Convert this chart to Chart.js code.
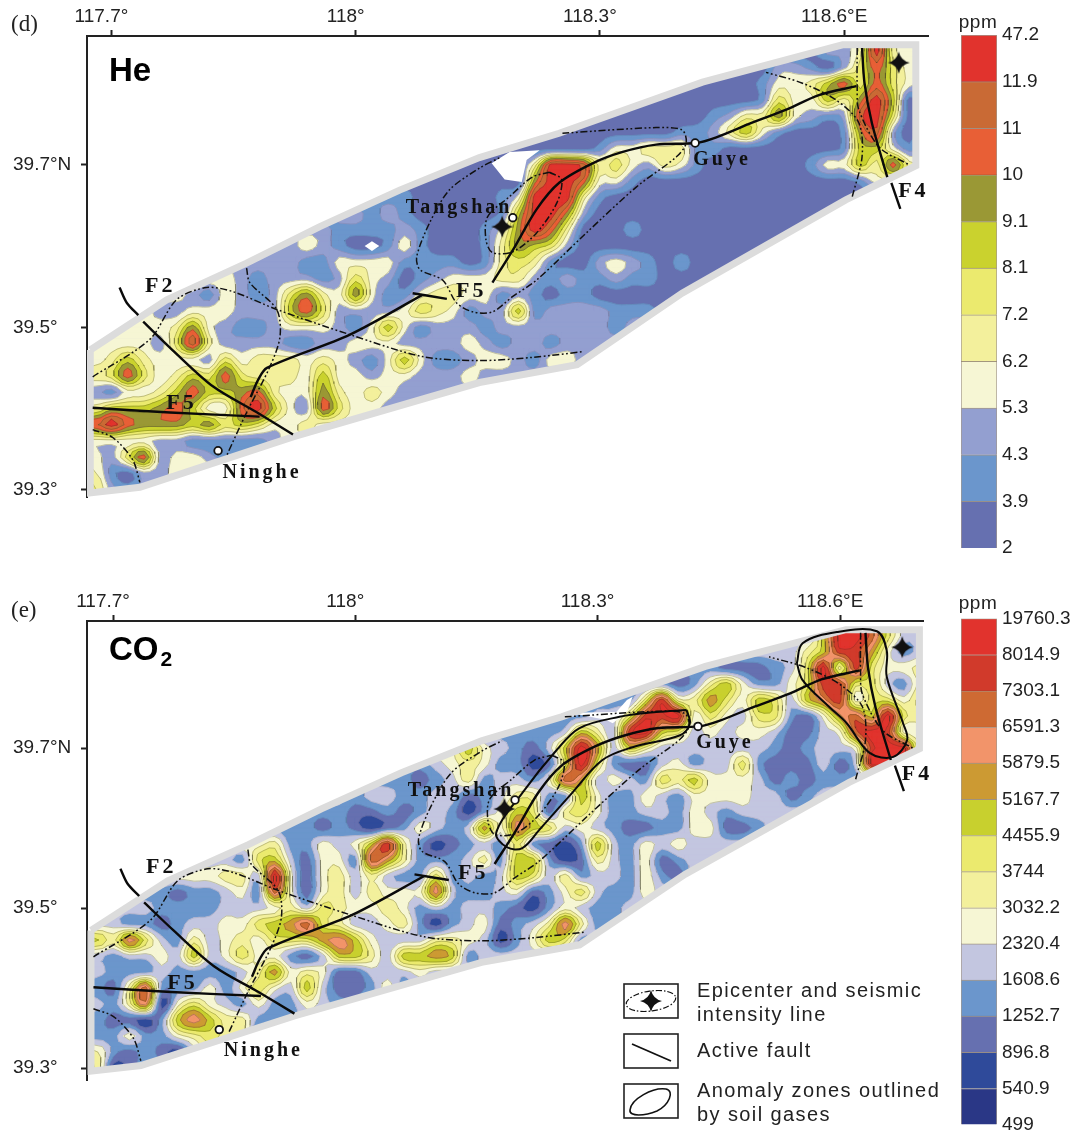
<!DOCTYPE html>
<html>
<head>
<meta charset="utf-8">
<title>He and CO2 soil gas maps</title>
<script src="https://cdn.jsdelivr.net/npm/chart.js@4/dist/chart.umd.min.js"></script>
<style>
  html, body { margin: 0; background: #fff; }
  body { position: relative; width: 1075px; height: 1141px; overflow: hidden; font-family: "Liberation Sans", sans-serif; color: #222; }
  canvas { position: absolute; }
  .txt { position: absolute; white-space: nowrap; }
  .panel { font-family: "Liberation Serif", serif; font-size: 23px; }
  .gas { font-weight: bold; font-size: 33px; color: #000; }
  .gas sub { font-size: 21px; vertical-align: -6px; margin-left: 2px; }
  .ppm { font-size: 19px; width: 60px; text-align: center; letter-spacing: .5px; }
  .leg { font-size: 20px; letter-spacing: 1.4px; line-height: 24px; }
  svg { position: absolute; }
</style>
</head>
<body>
<canvas id="mapaHe" width="940" height="520" style="left:0;top:0"></canvas>
<canvas id="barraHe" width="135" height="570" style="left:940px;top:0"></canvas>
<canvas id="mapaCo2" width="940" height="520" style="left:0;top:590px"></canvas>
<canvas id="barraCo2" width="135" height="551" style="left:940px;top:590px"></canvas>

<div class="txt panel" style="left:11px;top:11px">(d)</div>
<div class="txt panel" style="left:11px;top:597px">(e)</div>
<div class="txt gas" style="left:109px;top:51px">He</div>
<div class="txt gas" style="left:109px;top:630px">CO<sub>2</sub></div>
<div class="txt ppm" style="left:948px;top:11px">ppm</div>
<div class="txt ppm" style="left:948px;top:592px">ppm</div>

<!-- leyenda -->
<svg style="left:623px;top:983px" width="56" height="36"><rect x="1" y="1" width="54" height="34" fill="#fff" stroke="#222" stroke-width="1.6"/><ellipse cx="28" cy="18" rx="25" ry="10" transform="rotate(-8 28 18)" fill="none" stroke="#111" stroke-width="1.2" stroke-dasharray="6 2 1.5 2"/><path d="M28 7 Q30 16 39 18 Q30 20 28 29 Q26 20 17 18 Q26 16 28 7Z" fill="#111"/></svg>
<svg style="left:623px;top:1033px" width="56" height="36"><rect x="1" y="1" width="54" height="34" fill="#fff" stroke="#222" stroke-width="1.6"/><line x1="9" y1="11" x2="48" y2="28" stroke="#111" stroke-width="1.8"/></svg>
<svg style="left:623px;top:1083px" width="56" height="36"><rect x="1" y="1" width="54" height="34" fill="#fff" stroke="#222" stroke-width="1.6"/><path d="M7 27 C8 16 30 4 43 6 C52 8 46 22 34 28 C22 33 6 34 7 27Z" fill="none" stroke="#111" stroke-width="1.6"/></svg>
<div class="txt leg" style="left:697px;top:978px">Epicenter and seismic<br>intensity line</div>
<div class="txt leg" style="left:697px;top:1038px">Active fault</div>
<div class="txt leg" style="left:697px;top:1078px">Anomaly zones outlined<br>by soil gases</div>

<script>
// Etiquetas de ejes
const tickLon = [117.7, 118, 118.3, 118.6];
const tickLonCo2 = [117.701, 117.9975, 118.294, 118.591];
const tickLonLabels = ["117.7°", "118°", "118.3°", "118.6°E"];
const tickLat = [39.7, 39.5, 39.3];
const tickLatLabels = ["39.7°N", "39.5°", "39.3°"];

// Escalas de color (de abajo hacia arriba)
const heLevels = ["2", "3.9", "4.3", "5.3", "6.2", "7.2", "8.1", "9.1", "10", "11", "11.9", "47.2"];
const heColors = ["#6670b0", "#6b96cc", "#939fd0", "#f6f6d4", "#f3f09c", "#ebea6e", "#cad22e", "#9a9835", "#e85f36", "#c96a35", "#e1332d"];
const co2Levels = ["499", "540.9", "896.8", "1252.7", "1608.6", "2320.4", "3032.2", "3744", "4455.9", "5167.7", "5879.5", "6591.3", "7303.1", "8014.9", "19760.3"];
const co2Colors = ["#2a3786", "#2f4a9a", "#6670b0", "#6b96cc", "#c3c6e0", "#f6f6d4", "#f3f09c", "#ebea6e", "#c8d02e", "#cc9a33", "#f2946a", "#ce6a33", "#d13a2b", "#e1332d"];

const heGrid = [
  "0000000000 0000000000 0000000000 0000000000 00000224a4 33",
  "0000000000 0000000000 0000000000 0000000000 00000224a4 33",
  "0000000000 0000000000 0000000000 0000000000 0022102585 33",
  "0000000000 0000000000 0000000000 0000000000 0133468585 32",
  "0000000000 0000000000 0000000000 0000000000 01533647a6 02",
  "0000000000 0000000000 0000000000 0000000012 44732129a5 02",
  "0000000000 0000000000 0000000000 0000001124 6310001792 02",
  "0000000000 0000000000 0000000000 0133444110 0000001663 12",
  "0000000000 0000000000 00000014aa 9453243100 0000133648 44",
  "0000000000 0000000000 00000007aa 8331000000 0000000133 33",
  "0000000000 0000000111 0000013aaa 4100000000 0000000000 00",
  "0000000000 0000022121 0000016aa7 2000000000 0000000000 00",
  "0000000000 2222211112 1000137a84 0001000000 0000000000 00",
  "0000000000 2223210013 1000147652 0000000000 0000000000 00",
  "2222222222 2221133331 1110145410 0232101000 0000000000 00",
  "3333333332 1222125320 1233344212 1121100000 0000000000 00",
  "3333332132 1257437311 3443312101 1000000000 0000000000 00",
  "3333223332 2268522223 5431226122 2211100000 0000000000 00",
  "3333347321 1233321363 1222122222 2212222222 2222222222 22",
  "3333259422 2211223332 2223212212 2222222222 2222222222 22",
  "3464333253 4443432136 3112332133 2222222222 2222222222 22",
  "4585346585 4443633233 2223222222 2222222222 2222222222 22",
  "2133468667 8433743432 2222222222 2222222222 2222222222 22",
  "4666786338 a632853322 2222222222 2222222222 2222222222 22",
  "8a87776756 5334333333 3333333333 3333333333 3333333333 33",
  "3333221111 1233333333 3333333333 3333333333 3333333333 33",
  "3258233212 2222222222 2222222222 2222222222 2222222222 22",
  "4102233333 3333333333 3333333333 3333333333 3333333333 33",
  "5212222222 2222222222 2222222222 2222222222 2222222222 22",
  "5212222222 2222222222 2222222222 2222222222 2222222222 22",
];
const co2Grid = [
  "4444444444 4444444444 4444444444 4444444444 444448ddb7 44",
  "4444444444 4444444444 4444444444 4444444444 444448ddb7 44",
  "4444444444 4444444444 4444444444 4444444444 444468cc95 34",
  "3333333333 3333333333 3333333333 3333333332 22347d6c75 56",
  "3333333333 3333333333 3333333333 3333332368 53357cc774 36",
  "3333333333 3333333333 3333333333 33337c6697 58748ac577 57",
  "3333333333 3333333333 3333333333 3447ccd575 4773259b8d 76",
  "3333333333 3333333333 3333333334 864cd87454 5542245bdc 55",
  "5555555555 5555555555 5558543248 d948644444 44323445cd d5",
  "3333333333 3333333333 3456533127 d732245344 73222424dd d4",
  "3333333333 3333333333 234634435b 9454376855 5423233333 33",
  "4444444444 4444443443 3442346633 8533543555 5442344444 44",
  "3333333333 3333332232 3431358726 7533443543 4444444444 44",
  "3333333333 3333232123 543495a874 5432233552 2344444444 44",
  "5555555555 56335458c6 3123437321 3843545444 4444444444 44",
  "4444444443 7842553b96 3334638831 2643523444 4444444444 44",
  "5555555566 4d52564643 3734348746 3443532444 4444444444 44",
  "3333323345 3b52564655 5a43345235 7433544444 4444444444 44",
  "4444333344 4564765565 3434432135 4334444444 4444444444 44",
  "4433234455 789b764456 313452346a 6334444444 4444444444 44",
  "86a7436456 57779a8544 4665413587 3444444444 4444444444 44",
  "4344548457 5532488648 8983444444 4444444444 4444444444 44",
  "4333433334 6956522444 5444444444 4444444444 4444444444 44",
  "326b333535 7548422353 4444444444 4444444444 4444444444 44",
  "436a157543 5335433444 4444444444 4444444444 4444444444 44",
  "322138a866 3334444444 4444444444 4444444444 4444444444 44",
  "3353356766 2244444444 4444444444 4444444444 4444444444 44",
  "6323214644 4444444444 4444444444 4444444444 4444444444 44",
  "7123334444 4444444444 4444444444 4444444444 4444444444 44",
  "7123334444 4444444444 4444444444 4444444444 4444444444 44",
];

// Contorno del área muestreada [lon, lat]
const swath = [[117.674, 39.472], [117.768, 39.534], [117.866, 39.579], [117.956, 39.624], [118.054, 39.669], [118.152, 39.709], [118.25, 39.739], [118.426, 39.802], [118.598, 39.848], [118.688, 39.848], [118.688, 39.699], [118.602, 39.657], [118.401, 39.542], [118.272, 39.454], [118.152, 39.432], [117.923, 39.365], [117.735, 39.303], [117.674, 39.296]];
const huecosHe = [
  [[118.167, 39.702], [118.183, 39.682], [118.204, 39.679], [118.21, 39.706], [118.226, 39.718], [118.189, 39.716]],
  [[118.011, 39.6], [118.02, 39.606], [118.029, 39.6], [118.02, 39.594]],
];
const huecosCo2 = [
  [[118.3125, 39.731], [118.321, 39.7375], [118.331, 39.7475], [118.337, 39.764], [118.33, 39.76], [118.317, 39.745], [118.26, 39.744], [118.305, 39.735]],
];

// Fallas activas
const fallas = [
  [[117.677, 39.401], [117.772, 39.395], [117.882, 39.39]],
  [[117.739, 39.507], [117.775, 39.472], [117.825, 39.427], [117.879, 39.395], [117.923, 39.368]],
  [[117.71, 39.549], [117.719, 39.53], [117.733, 39.515]],
  [[117.871, 39.414], [117.88, 39.435], [117.891, 39.45], [117.993, 39.491], [118.082, 39.54]],
  [[118.07, 39.542], [118.112, 39.535]],
  [[118.168, 39.555], [118.193, 39.595], [118.222, 39.645], [118.25, 39.678], [118.291, 39.702], [118.328, 39.716], [118.369, 39.725], [118.418, 39.727], [118.443, 39.734], [118.487, 39.752], [118.529, 39.768], [118.569, 39.786], [118.615, 39.797]],
  [[118.622, 39.844], [118.625, 39.801], [118.634, 39.752], [118.653, 39.685]],
  [[118.658, 39.678], [118.669, 39.646]],
];
// Líneas de intensidad sísmica
const intensidad = [
  [[118.61, 39.661], [118.622, 39.71], [118.618, 39.752], [118.59, 39.78], [118.548, 39.801], [118.504, 39.814]],
  [[118.616, 39.844], [118.616, 39.796], [118.618, 39.768], [118.643, 39.722], [118.68, 39.7]],
  [[118.254, 39.739], [118.369, 39.746], [118.401, 39.743], [118.406, 39.727], [118.394, 39.71], [118.345, 39.673], [118.283, 39.616], [118.222, 39.558], [118.193, 39.538], [118.168, 39.519], [118.144, 39.519], [118.124, 39.53], [118.107, 39.558], [118.079, 39.571], [118.075, 39.587], [118.091, 39.629], [118.115, 39.669], [118.152, 39.696], [118.177, 39.709]],
  [[118.238, 39.691], [118.253, 39.682], [118.247, 39.653], [118.222, 39.616], [118.193, 39.593], [118.168, 39.592], [118.16, 39.608], [118.162, 39.636], [118.189, 39.661], [118.217, 39.685], [118.238, 39.691]],
  [[117.677, 39.439], [117.747, 39.485], [117.78, 39.534], [117.817, 39.549], [117.849, 39.544], [117.903, 39.522], [117.993, 39.491], [118.082, 39.464], [118.152, 39.459], [118.217, 39.463], [118.279, 39.47]],
  [[117.866, 39.573], [117.87, 39.555], [117.903, 39.522], [117.907, 39.488], [117.894, 39.45], [117.866, 39.395], [117.842, 39.343]],
  [[117.677, 39.374], [117.702, 39.364], [117.726, 39.337], [117.735, 39.309]],
];
// Zonas anómalas (sólo CO2)
const zonasCo2 = [
  [[118.538, 39.806], [118.545, 39.831], [118.587, 39.845], [118.636, 39.846], [118.648, 39.822], [118.648, 39.789], [118.668, 39.731], [118.673, 39.71], [118.656, 39.689], [118.627, 39.694], [118.599, 39.731], [118.578, 39.751], [118.545, 39.785], [118.538, 39.806]],
  [[118.403, 39.7475], [118.407, 39.731], [118.395, 39.716], [118.337, 39.701], [118.3, 39.685], [118.263, 39.644], [118.223, 39.598], [118.202, 39.575], [118.183, 39.576], [118.17, 39.594], [118.202, 39.644], [118.244, 39.6975], [118.272, 39.725], [118.321, 39.739], [118.366, 39.745], [118.403, 39.7475]],
];
const ciudades = [[117.831, 39.348], [118.193, 39.635], [118.417, 39.727]];
const epicentros = [[118.18, 39.624], [118.667, 39.826]];
const rotulos = [["F2", 117.76, 39.551], ["F5", 117.786, 39.406], ["F5", 118.142, 39.544], ["F4", 118.685, 39.667], ["Tangshan", 118.127, 39.647], ["Guye", 118.45, 39.706], ["Ninghe", 117.885, 39.321]];

const aPuntos = (lista) => lista.map((p) => ({ x: p[0], y: p[1] }));
const HUECO = { x: null, y: null };
const FINO = 3; // subdivisiones por celda al trazar las curvas

// Imagen de la estrella para los epicentros
const estrella = document.createElement("canvas");
estrella.width = 24;
estrella.height = 24;
const sctx = estrella.getContext("2d");
sctx.fillStyle = "#111";
sctx.beginPath();
sctx.moveTo(12, 1);
sctx.quadraticCurveTo(14, 10, 23, 12);
sctx.quadraticCurveTo(14, 14, 12, 23);
sctx.quadraticCurveTo(10, 14, 1, 12);
sctx.quadraticCurveTo(10, 10, 12, 1);
sctx.fill();

const catmull = (a, b, c, d, t) => 0.5 * (2 * b + (c - a) * t + (2 * a - 5 * b + 4 * c - d) * t * t + (3 * b - a - 3 * c + d) * t * t * t);

// Afina la malla leída para que las curvas salgan redondeadas, sin salirse del rango de cada celda
function afinar(v) {
  const nj = v.length, ni = v[0].length;
  const at = (j, i) => v[Math.max(0, Math.min(nj - 1, j))][Math.max(0, Math.min(ni - 1, i))];
  const out = [];
  for (let fj = 0; fj <= (nj - 1) * FINO; fj++) {
    const j = Math.min(Math.floor(fj / FINO), nj - 2), tj = fj / FINO - j;
    const fila = [];
    for (let fi = 0; fi <= (ni - 1) * FINO; fi++) {
      const i = Math.min(Math.floor(fi / FINO), ni - 2), ti = fi / FINO - i;
      const col = [-1, 0, 1, 2].map((d) => catmull(at(j + d, i - 1), at(j + d, i), at(j + d, i + 1), at(j + d, i + 2), ti));
      const val = catmull(col[0], col[1], col[2], col[3], tj);
      const esq = [at(j, i), at(j, i + 1), at(j + 1, i), at(j + 1, i + 1)];
      fila.push(Math.max(Math.min(...esq), Math.min(Math.max(...esq), val)));
    }
    out.push(fila);
  }
  return out;
}

// Recorre la malla y arma una serie por banda, con cortes entre celdas
function bandas(filas, lon0, paso, colores, desdeLinea) {
  const gruesa = filas.map((f) => {
    const s = f.replace(/ /g, "");
    return Array.from({ length: 52 }, (_, i) => parseInt(s[Math.min(i, s.length - 1)], 16) + 0.5);
  });
  const v = afinar(gruesa);
  const lon = (i) => (i === 0 ? swath[0][0] : lon0 + (i / FINO) * paso);
  const lat = (j) => (j === 0 ? 39.85 : 39.86 - (0.02 * j) / FINO);
  const salida = [];
  const lineas = [];
  const lineasTenues = [];
  const nj = v.length, ni = v[0].length;

  salida.push({ color: colores[0], data: [{ x: lon(0), y: lat(0) }, { x: lon(ni - 1), y: lat(0) }, { x: lon(ni - 1), y: lat(nj - 1) }, { x: lon(0), y: lat(nj - 1) }, { x: lon(0), y: lat(0) }] });

  for (let k = 1; k < colores.length; k++) {
    const data = [];
    const destino = k >= desdeLinea ? lineas : lineasTenues;
    for (let j = 0; j < nj - 1; j++) {
      let inicio = -1;
      const cerrar = (fin) => {
        if (inicio < 0) return;
        data.push({ x: lon(inicio), y: lat(j) }, { x: lon(fin), y: lat(j) }, { x: lon(fin), y: lat(j + 1) }, { x: lon(inicio), y: lat(j + 1) }, { x: lon(inicio), y: lat(j) }, HUECO);
        inicio = -1;
      };
      for (let i = 0; i < ni - 1; i++) {
        // Celdas enteras dentro de la banda se juntan en un solo rectángulo
        if (v[j][i] >= k && v[j][i + 1] >= k && v[j + 1][i] >= k && v[j + 1][i + 1] >= k) {
          if (inicio < 0) inicio = i;
          continue;
        }
        cerrar(i);
        const c = [[i, j], [i + 1, j], [i + 1, j + 1], [i, j + 1]];
        const poli = [];
        const cruces = [];
        for (let e = 0; e < 4; e++) {
          const a = c[e], b = c[(e + 1) % 4];
          const va = v[a[1]][a[0]], vb = v[b[1]][b[0]];
          if (va >= k) poli.push({ x: lon(a[0]), y: lat(a[1]) });
          if (va >= k !== vb >= k) {
            const t = (k - va) / (vb - va);
            const p = { x: lon(a[0]) + t * (lon(b[0]) - lon(a[0])), y: lat(a[1]) + t * (lat(b[1]) - lat(a[1])) };
            poli.push(p);
            cruces.push(p);
          }
        }
        if (poli.length >= 3) data.push(...poli, poli[0], HUECO);
        if (cruces.length === 2) destino.push(cruces[0], cruces[1], HUECO);
        if (cruces.length === 4) {
          if (v[j][i] >= k) destino.push(cruces[0], cruces[1], HUECO, cruces[2], cruces[3], HUECO);
          else destino.push(cruces[1], cruces[2], HUECO, cruces[3], cruces[0], HUECO);
        }
      }
      cerrar(ni - 1);
    }
    salida.push({ color: colores[k], data });
  }
  return { salida, lineas, lineasTenues };
}

const rotulosPlugin = {
  id: "rotulos",
  afterDatasetsDraw(chart) {
    const { ctx, scales } = chart;
    ctx.save();
    ctx.fillStyle = "#111";
    ctx.textAlign = "center";
    ctx.textBaseline = "middle";
    ctx.letterSpacing = "3px";
    rotulos.forEach((r) => {
      ctx.font = "bold " + (r[0].length === 2 ? 22 : 20) + 'px "Liberation Serif"';
      ctx.fillText(r[0], scales.x.getPixelForValue(r[1]), scales.y.getPixelForValue(r[2]));
    });
    ctx.restore();
  },
};

function serieLinea(lista, color, ancho, extra) {
  return Object.assign({ data: aPuntos(lista), showLine: true, fill: false, borderColor: color, borderWidth: ancho, pointRadius: 0, tension: 0.3 }, extra);
}

function crearMapa(id, cfg) {
  const g = bandas(cfg.grid, cfg.lon0, cfg.paso, cfg.colores, cfg.desdeLinea);
  const datasets = [];
  g.salida.forEach((b) => {
    datasets.push({ data: b.data, showLine: true, fill: "shape", backgroundColor: b.color, borderColor: b.color, borderWidth: 1, pointRadius: 0, tension: 0, clip: 0 });
  });
  datasets.push({ data: g.lineasTenues, showLine: true, fill: false, borderColor: "rgba(50,50,70,0.2)", borderWidth: 0.6, pointRadius: 0, tension: 0, clip: 0 });
  datasets.push({ data: g.lineas, showLine: true, fill: false, borderColor: "rgba(50,50,30,0.45)", borderWidth: 0.6, pointRadius: 0, tension: 0, clip: 0 });

  // Máscara blanca fuera del contorno
  const izq = cfg.xMin + 0.0015, arriba = cfg.yMax - 0.0015, der = cfg.xMax + 0.01, abajo = cfg.yMin - 0.01;
  const anillo = aPuntos(swath.slice().reverse());
  const mascara = [{ x: izq, y: abajo }, { x: izq, y: arriba }, { x: der, y: arriba }, { x: der, y: abajo }, { x: izq, y: abajo }].concat(anillo, [anillo[0]]);
  datasets.push({ data: mascara, showLine: true, fill: "shape", backgroundColor: "#fff", borderWidth: 0, pointRadius: 0, tension: 0 });
  cfg.huecos.forEach((h) => {
    datasets.push({ data: aPuntos(h), showLine: true, fill: "shape", backgroundColor: "#fff", borderWidth: 0, pointRadius: 0, tension: 0 });
  });
  datasets.push({ data: aPuntos(swath.concat([swath[0]])), showLine: true, fill: false, borderColor: "#dcdcdc", borderWidth: 7, borderJoinStyle: "miter", pointRadius: 0, tension: 0 });

  intensidad.forEach((l) => datasets.push(serieLinea(l, "#111", 1.5, { borderDash: [7, 2.5, 1.8, 2.5, 1.8, 2.5] })));
  fallas.forEach((l) => datasets.push(serieLinea(l, "#0a0a0a", 2.4)));
  cfg.zonas.forEach((l) => datasets.push(serieLinea(l, "#0a0a0a", 2, { tension: 0.35 })));
  datasets.push({ data: aPuntos(epicentros), showLine: false, pointStyle: estrella, pointRadius: 11 });
  datasets.push({ data: aPuntos(ciudades), showLine: false, pointStyle: "circle", pointRadius: 3.8, pointBackgroundColor: "#fff", pointBorderColor: "#111", pointBorderWidth: 1.8 });

  // Chart.js pinta primero el orden más alto, por eso el orden negativo
  datasets.forEach((d, i) => { d.order = -i; });

  const fuente = { family: '"Liberation Sans"', size: 19 };
  new Chart(document.getElementById(id), {
    type: "scatter",
    data: { datasets },
    plugins: [rotulosPlugin],
    options: {
      responsive: false,
      animation: false,
      events: [],
      layout: { padding: { left: 13, right: cfg.padRight, top: 0, bottom: cfg.padBottom } },
      plugins: { legend: { display: false }, tooltip: { enabled: false } },
      scales: {
        x: {
          type: "linear",
          position: "top",
          min: cfg.xMin,
          max: cfg.xMax,
          afterFit: (s) => { s.height = cfg.alto; },
          afterBuildTicks: (s) => { s.ticks = cfg.ticksLon.map((v) => ({ value: v })); },
          grid: { drawOnChartArea: false, tickLength: 6, tickWidth: 2, tickColor: "#222" },
          border: { color: "#222", width: 2 },
          ticks: { autoSkip: false, maxRotation: 0, color: "#222", font: fuente, padding: 2, labelOffset: -10, callback: (v, i) => tickLonLabels[i] },
        },
        y: {
          type: "linear",
          position: "left",
          min: cfg.yMin,
          max: cfg.yMax,
          afterFit: (s) => { s.width = 74; },
          afterBuildTicks: (s) => { s.ticks = tickLat.map((v) => ({ value: v })); },
          grid: { drawOnChartArea: false, tickLength: 6, tickWidth: 2, tickColor: "#222" },
          border: { color: "#222", width: 2 },
          ticks: { autoSkip: false, color: "#222", font: fuente, crossAlign: "far", callback: (v, i) => tickLatLabels[i] },
        },
      },
    },
  });
}

function crearBarra(id, niveles, colores, padTop, padBottom) {
  new Chart(document.getElementById(id), {
    type: "bar",
    data: {
      labels: [""],
      datasets: colores.map((c) => ({ data: [1], backgroundColor: c, borderColor: "rgba(90,70,50,0.55)", borderWidth: 1, barPercentage: 1, categoryPercentage: 1 })),
    },
    options: {
      responsive: false,
      animation: false,
      events: [],
      layout: { padding: { left: 21, top: padTop, bottom: padBottom } },
      plugins: { legend: { display: false }, tooltip: { enabled: false } },
      scales: {
        x: { stacked: true, display: false },
        y: {
          stacked: true,
          position: "right",
          min: 0,
          max: colores.length,
          afterFit: (s) => { s.width = 78; },
          grid: { display: false, drawTicks: false },
          border: { display: false },
          ticks: { stepSize: 1, autoSkip: false, padding: 5, color: "#222", font: { family: '"Liberation Sans"', size: 19 }, callback: (v) => niveles[v] },
        },
      },
    },
  });
}

crearMapa("mapaHe", {
  grid: heGrid, lon0: 117.68, paso: 0.02, colores: heColors, desdeLinea: 3,
  xMin: 117.67, xMax: 118.703, yMin: 39.291, yMax: 39.8588,
  ticksLon: tickLon, huecos: huecosHe, zonas: [], alto: 36, padRight: 11, padBottom: 23,
});
crearMapa("mapaCo2", {
  grid: co2Grid, lon0: 117.6815, paso: 0.019755, colores: co2Colors, desdeLinea: 5,
  xMin: 117.6691, xMax: 118.6924, yMin: 39.285, yMax: 39.8588,
  ticksLon: tickLonCo2, huecos: huecosCo2, zonas: zonasCo2, alto: 31, padRight: 17, padBottom: 30,
});
crearBarra("barraHe", heLevels, heColors, 35, 22);
crearBarra("barraCo2", co2Levels, co2Colors, 28.6, 9);
</script>
</body>
</html>
